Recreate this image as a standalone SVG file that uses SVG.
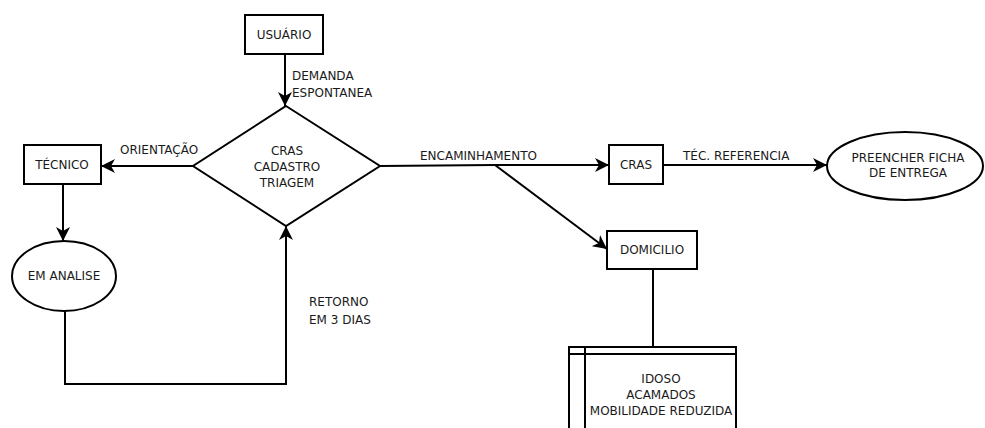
<svg xmlns="http://www.w3.org/2000/svg" width="985" height="428" viewBox="0 0 985 428">
<style>
.s{fill:#fff;stroke:#000;stroke-width:2}
.c{fill:none;stroke:#000;stroke-width:2}
text{font-family:"DejaVu Sans",Verdana,sans-serif;font-size:12px;fill:#1a1a1a}
.m{text-anchor:middle}
</style>
<defs>
<marker id="a" markerUnits="userSpaceOnUse" markerWidth="16" markerHeight="14" refX="14" refY="7" orient="auto">
<path d="M0,0 L14,7 L0,14 L4,7 Z" fill="#000"/>
</marker>
</defs>
<rect width="985" height="428" fill="#fff"/>
<g id="connectors">
<path class="c" d="M285,54 V106" marker-end="url(#a)"/>
<path class="c" d="M193,166 H101" marker-end="url(#a)"/>
<path class="c" d="M63,184 V241" marker-end="url(#a)"/>
<path class="c" d="M65,311 V384 H286 V226" marker-end="url(#a)"/>
<path class="c" d="M380,166 L495,165 H609" marker-end="url(#a)"/>
<path class="c" d="M495,165 L607,249" marker-end="url(#a)"/>
<path class="c" d="M663,165 H827" marker-end="url(#a)"/>
<path class="c" d="M653,269 V347"/>
<text x="292" y="80">DEMANDA</text>
<text x="292" y="97">ESPONTANEA</text>
<text x="120" y="154">ORIENTAÇÃO</text>
<text x="420" y="160">ENCAMINHAMENTO</text>
<text x="683" y="160">TÉC. REFERENCIA</text>
<text x="309" y="306">RETORNO</text>
<text x="309" y="324">EM 3 DIAS</text>
</g>
<g id="usuario">
<rect class="s" x="245" y="15" width="78" height="39"/>
<text class="m" x="284" y="39">USUÁRIO</text>
</g>
<g id="cras-triagem">
<path class="s" d="M286,106 L380,166 L286,226 L193,166 Z"/>
<text class="m" x="287" y="155">CRAS</text>
<text class="m" x="287" y="171">CADASTRO</text>
<text class="m" x="287" y="187">TRIAGEM</text>
</g>
<g id="tecnico">
<rect class="s" x="24" y="145" width="77" height="39"/>
<text class="m" x="62" y="169">TÉCNICO</text>
</g>
<g id="em-analise">
<ellipse class="s" cx="64" cy="276" rx="52" ry="35"/>
<text class="m" x="64" y="280">EM ANALISE</text>
</g>
<g id="cras">
<rect class="s" x="609" y="145" width="54" height="39"/>
<text class="m" x="636" y="169">CRAS</text>
</g>
<g id="domicilio">
<rect class="s" x="607" y="231" width="90" height="38"/>
<text class="m" x="652" y="254">DOMICILIO</text>
</g>
<g id="preencher">
<ellipse class="s" cx="905" cy="166" rx="78" ry="34"/>
<text class="m" x="908" y="162">PREENCHER FICHA</text>
<text class="m" x="908" y="177">DE ENTREGA</text>
</g>
<g id="publico">
<path class="s" d="M569,430 V347 H736 V430"/>
<path class="c" d="M569,354 H736 M585,347 V430"/>
<text class="m" x="661" y="383">IDOSO</text>
<text class="m" x="661" y="399">ACAMADOS</text>
<text class="m" x="661" y="415">MOBILIDADE REDUZIDA</text>
</g>
</svg>
